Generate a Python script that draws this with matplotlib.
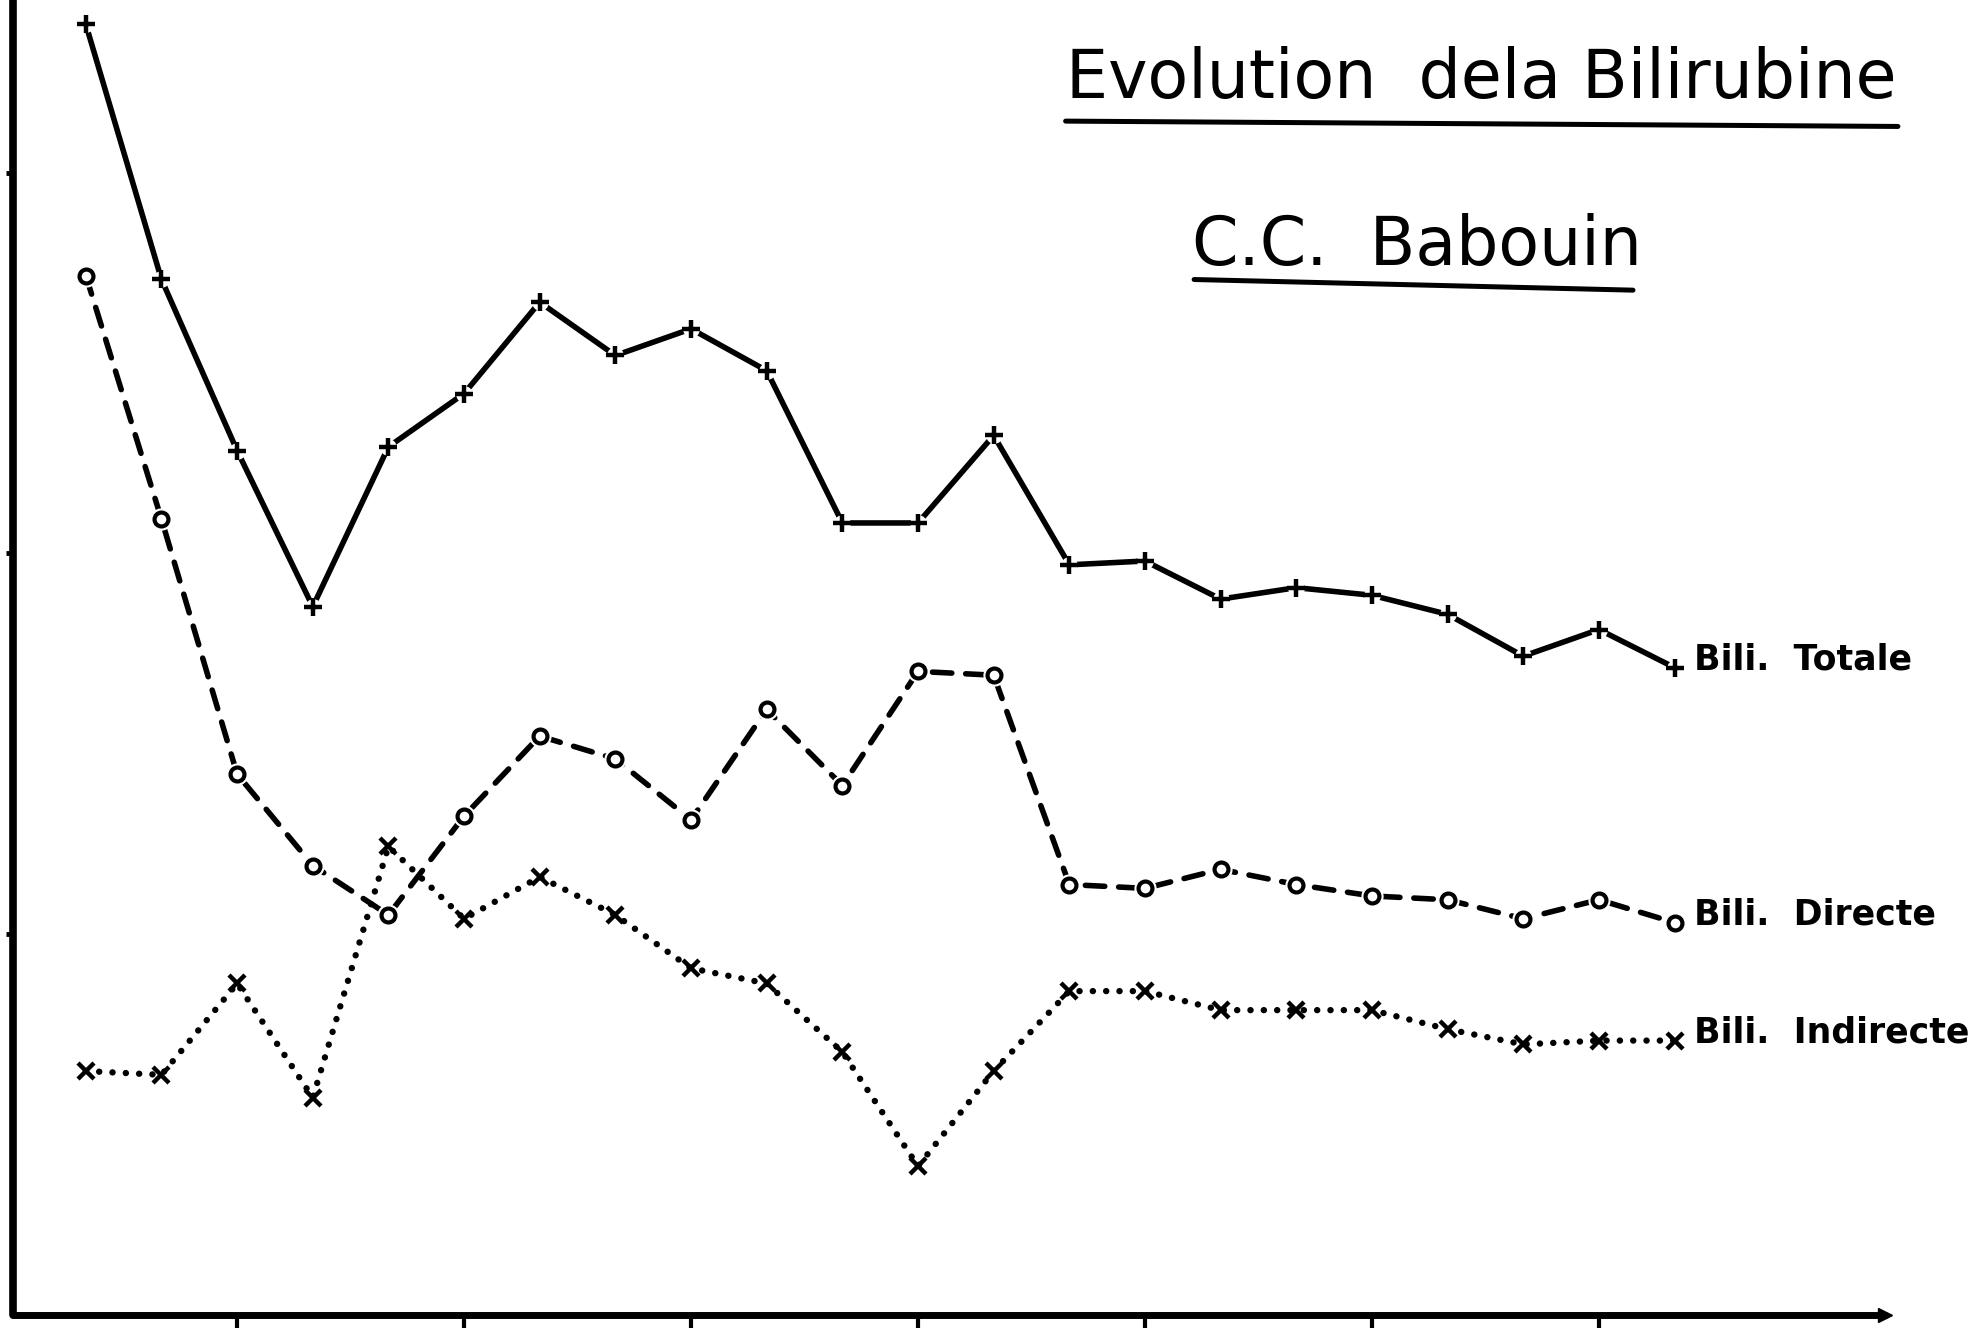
"""
Evolution de la Bilirubine - C.C. Babouin
Reproduction d'une figure tracée à la main (trois courbes, sans graduations chiffrées).
"""

import numpy as np
import matplotlib
matplotlib.use("Agg")
import matplotlib.pyplot as plt
from matplotlib.lines import Line2D

# ==============================================================================
# DONNÉES (unités arbitraires, 1 unité = 1 graduation)
# ==============================================================================

prelevements = list(range(22))          # n° du prélèvement
x_ticks = [2, 5, 8, 11, 14, 17, 20]     # graduations de l'axe horizontal
y_ticks = [1, 2, 3]

bili_totale = [3.39, 2.72, 2.27, 1.86, 2.28, 2.42, 2.66, 2.52, 2.59, 2.48, 2.08,
               2.08, 2.31, 1.97, 1.98, 1.88, 1.91, 1.89, 1.84, 1.73, 1.80, 1.70]
bili_directe = [2.73, 2.09, 1.42, 1.18, 1.05, 1.31, 1.52, 1.46, 1.30, 1.59, 1.39,
                1.69, 1.68, 1.13, 1.12, 1.17, 1.13, 1.10, 1.09, 1.04, 1.09, 1.03]
bili_indirecte = [0.64, 0.63, 0.87, 0.57, 1.23, 1.04, 1.15, 1.05, 0.91, 0.87, 0.69,
                  0.39, 0.64, 0.85, 0.85, 0.80, 0.80, 0.80, 0.75, 0.71, 0.72, 0.72]

labels = ["Bili.  Totale", "Bili.  Directe", "Bili.  Indirecte"]

TITLE = "Evolution  dela Bilirubine"
SUBTITLE = "C.C.  Babouin"

INK = "black"
FONT = "DejaVu Sans"

# ==============================================================================
# FIGURE
# ==============================================================================

plt.rcParams["lines.scale_dashes"] = False
plt.rcParams["font.family"] = FONT

fig = plt.figure(figsize=(19.77, 13.31), dpi=100)
ax = fig.add_axes([0.0064, 0.0123, 0.947, 0.9877])

x = np.array(prelevements)

# Bilirubine totale : trait plein, croix droites
ax.plot(x, bili_totale, color=INK, lw=4.0, solid_capstyle="round", zorder=2)
ax.plot(x, bili_totale, ls="none", marker="o", markersize=11,
        markerfacecolor="white", markeredgecolor="white", zorder=2.5)
ax.plot(x, bili_totale, ls="none", color=INK,
        marker="+", markersize=13, markeredgewidth=3.2, zorder=3)

# Bilirubine directe : tirets, petits cercles
ax.plot(x, bili_directe, color=INK, lw=4.0, dashes=(14, 10),
        dash_capstyle="round", zorder=2)
ax.plot(x, bili_directe, ls="none", marker="o", markersize=15,
        markerfacecolor="white", markeredgecolor="white", zorder=2.5)
ax.plot(x, bili_directe, ls="none", color=INK,
        marker="o", markersize=10, markerfacecolor="white",
        markeredgewidth=3.0, zorder=3)

# Bilirubine indirecte : pointillés, croix obliques
ax.plot(x, bili_indirecte, color=INK, lw=4.6, dashes=(0.1, 9.5),
        dash_capstyle="round", zorder=2)
ax.plot(x, bili_indirecte, ls="none", color=INK,
        marker="x", markersize=11, markeredgewidth=3.2, zorder=3)

# Étiquettes en bout de courbe
for serie, lab in zip([bili_totale, bili_directe, bili_indirecte], labels):
    ax.annotate(lab, xy=(x[-1], serie[-1]), xytext=(14, 6),
                textcoords="offset points", va="center", ha="left",
                fontsize=25, fontweight="bold", color=INK,
                annotation_clip=False)

# Axes
ax.set_xlim(-0.967, 23.78)
ax.set_ylim(0, 3.454)
for side in ["top", "right"]:
    ax.spines[side].set_visible(False)
ax.spines["left"].set_linewidth(5.5)
ax.spines["bottom"].set_linewidth(5)
ax.spines["left"].set_capstyle("round")
ax.spines["bottom"].set_capstyle("round")

ax.set_xticks(x_ticks)
ax.set_yticks(y_ticks)
ax.set_xticklabels([])
ax.set_yticklabels([])
ax.tick_params(axis="x", direction="out", length=9, width=3, color=INK)
ax.tick_params(axis="y", direction="out", length=5, width=3.5, color=INK)

# petite flèche au bout de l'axe horizontal
ax.plot([1.0], [0.0], marker=">", markersize=10, color=INK,
        transform=ax.transAxes, clip_on=False)

# Titres soulignés
fig.text(0.539, 0.926, TITLE, fontsize=48, color=INK, ha="left", va="baseline")
fig.add_artist(Line2D([0.539, 0.960], [0.909, 0.905], transform=fig.transFigure,
                      color=INK, lw=3.6, solid_capstyle="round"))

fig.text(0.603, 0.801, SUBTITLE, fontsize=48, color=INK, ha="left", va="baseline")
fig.add_artist(Line2D([0.604, 0.826], [0.790, 0.782], transform=fig.transFigure,
                      color=INK, lw=3.6, solid_capstyle="round"))

fig.savefig("out.png", dpi=100, facecolor="white")
plt.close(fig)
